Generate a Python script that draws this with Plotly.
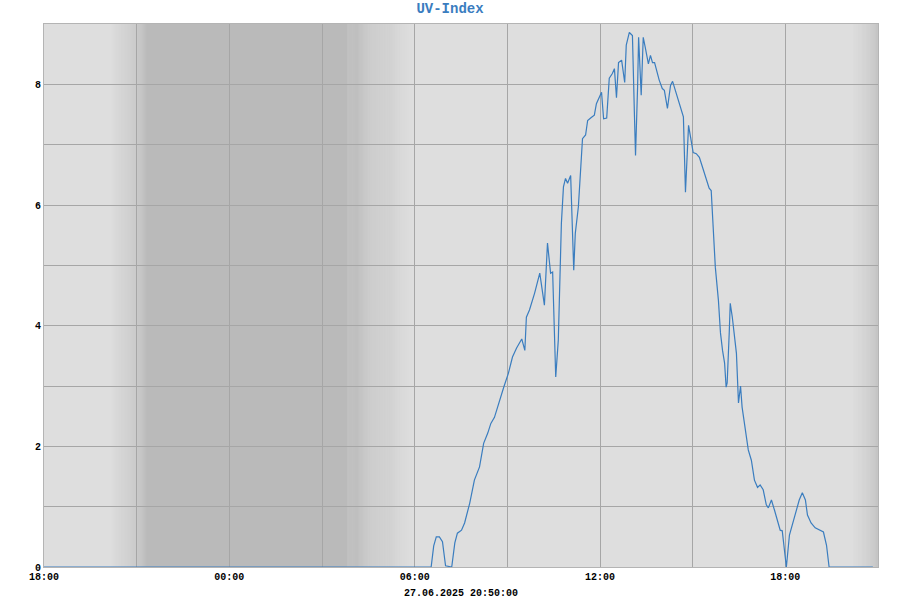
import plotly.graph_objects as go
from datetime import datetime, timedelta

# ---- data ----
times = [
    "2025-06-26 18:00", "2025-06-27 06:32", "2025-06-27 06:37", "2025-06-27 06:42", "2025-06-27 06:48",
    "2025-06-27 06:54", "2025-06-27 07:00", "2025-06-27 07:12", "2025-06-27 07:18", "2025-06-27 07:23",
    "2025-06-27 07:31", "2025-06-27 07:37", "2025-06-27 07:47", "2025-06-27 07:56", "2025-06-27 08:06",
    "2025-06-27 08:14", "2025-06-27 08:22", "2025-06-27 08:28", "2025-06-27 08:35", "2025-06-27 08:45",
    "2025-06-27 08:53", "2025-06-27 09:02", "2025-06-27 09:10", "2025-06-27 09:18", "2025-06-27 09:28",
    "2025-06-27 09:34", "2025-06-27 09:37", "2025-06-27 09:43", "2025-06-27 09:53", "2025-06-27 10:03",
    "2025-06-27 10:12", "2025-06-27 10:18", "2025-06-27 10:24", "2025-06-27 10:28", "2025-06-27 10:34",
    "2025-06-27 10:39", "2025-06-27 10:45", "2025-06-27 10:49", "2025-06-27 10:53", "2025-06-27 10:57",
    "2025-06-27 11:03", "2025-06-27 11:09", "2025-06-27 11:12", "2025-06-27 11:18", "2025-06-27 11:26",
    "2025-06-27 11:32", "2025-06-27 11:36", "2025-06-27 11:43", "2025-06-27 11:49", "2025-06-27 11:53",
    "2025-06-27 12:03", "2025-06-27 12:07", "2025-06-27 12:13", "2025-06-27 12:18", "2025-06-27 12:24",
    "2025-06-27 12:28", "2025-06-27 12:32", "2025-06-27 12:36", "2025-06-27 12:42", "2025-06-27 12:48",
    "2025-06-27 12:51", "2025-06-27 12:57", "2025-06-27 13:03", "2025-06-27 13:07", "2025-06-27 13:09",
    "2025-06-27 13:13", "2025-06-27 13:15", "2025-06-27 13:20", "2025-06-27 13:24", "2025-06-27 13:28",
    "2025-06-27 13:34", "2025-06-27 13:38", "2025-06-27 13:42", "2025-06-27 13:46", "2025-06-27 13:50",
    "2025-06-27 13:55", "2025-06-27 14:01", "2025-06-27 14:05", "2025-06-27 14:11", "2025-06-27 14:17",
    "2025-06-27 14:21", "2025-06-27 14:26", "2025-06-27 14:34", "2025-06-27 14:42", "2025-06-27 14:46",
    "2025-06-27 14:52", "2025-06-27 14:56", "2025-06-27 15:01", "2025-06-27 15:07", "2025-06-27 15:13",
    "2025-06-27 15:19", "2025-06-27 15:25", "2025-06-27 15:32", "2025-06-27 15:36", "2025-06-27 15:40",
    "2025-06-27 15:44", "2025-06-27 15:50", "2025-06-27 15:54", "2025-06-27 15:58", "2025-06-27 16:02",
    "2025-06-27 16:05", "2025-06-27 16:07", "2025-06-27 16:11", "2025-06-27 16:13", "2025-06-27 16:17",
    "2025-06-27 16:25", "2025-06-27 16:29", "2025-06-27 16:33", "2025-06-27 16:36", "2025-06-27 16:40",
    "2025-06-27 16:48", "2025-06-27 16:54", "2025-06-27 17:00", "2025-06-27 17:06", "2025-06-27 17:11",
    "2025-06-27 17:17", "2025-06-27 17:23", "2025-06-27 17:27", "2025-06-27 17:33", "2025-06-27 17:39",
    "2025-06-27 17:44", "2025-06-27 17:50", "2025-06-27 17:54", "2025-06-27 18:00", "2025-06-27 18:02",
    "2025-06-27 18:08", "2025-06-27 18:15", "2025-06-27 18:21", "2025-06-27 18:27", "2025-06-27 18:33",
    "2025-06-27 18:39", "2025-06-27 18:43", "2025-06-27 18:50", "2025-06-27 18:58", "2025-06-27 19:06",
    "2025-06-27 19:14", "2025-06-27 19:20", "2025-06-27 19:25", "2025-06-27 20:50",
]
uv = [
    0, 0, 0.35, 0.50, 0.50,
    0.42, 0.02, 0, 0.40, 0.56,
    0.61, 0.73, 1.06, 1.44, 1.66,
    2.05, 2.22, 2.38, 2.48, 2.77,
    2.98, 3.21, 3.48, 3.63, 3.78,
    3.59, 4.14, 4.26, 4.54, 4.87,
    4.34, 5.37, 4.87, 4.89, 3.15,
    3.76, 5.70, 6.30, 6.44, 6.36,
    6.49, 4.92, 5.53, 5.97, 7.10,
    7.16, 7.40, 7.45, 7.49, 7.68,
    7.87, 7.43, 7.44, 8.10, 8.18,
    8.26, 7.78, 8.36, 8.40, 8.03,
    8.65, 8.86, 8.81, 7.46, 6.82,
    7.95, 8.78, 7.82, 8.78, 8.61,
    8.34, 8.48, 8.36, 8.36, 8.23,
    8.07, 7.93, 7.90, 7.60, 7.98,
    8.05, 7.90, 7.70, 7.46, 6.21,
    7.32, 7.12, 6.87, 6.85, 6.79,
    6.63, 6.46, 6.28, 6.24, 5.53,
    4.97, 4.42, 3.88, 3.59, 3.38,
    2.98, 3.05, 3.88, 4.37, 4.14,
    3.54, 2.72, 3.00, 2.65, 2.43,
    1.94, 1.77, 1.44, 1.32, 1.36,
    1.28, 1.03, 0.98, 1.11, 0.94,
    0.78, 0.61, 0.60, 0.05, 0,
    0.53, 0.75, 0.94, 1.11, 1.23,
    1.11, 0.86, 0.73, 0.65, 0.61,
    0.58, 0.36, 0, 0,
]

title_text = "UV-Index"
stamp_text = "27.06.2025 20:50:00"
x_start = "2025-06-26 18:00"
x_end = "2025-06-27 21:00"

# night shading: (gradient start, dark start, dark end, gradient end)
night_periods = [
    ("2025-06-26 20:10", "2025-06-26 21:20", "2025-06-27 03:50", "2025-06-27 05:55"),
    ("2025-06-27 20:10", "2025-06-27 21:20", "2025-06-28 03:50", "2025-06-28 05:55"),
]

LIGHT = 222
DARK = 186
FONT = "Liberation Mono"

fig = go.Figure()
fig.add_trace(go.Scatter(
    x=times, y=uv, mode="lines",
    line=dict(color="#3a7dbf", width=1.2),
    hoverinfo="x+y", showlegend=False,
))

fmt = "%Y-%m-%d %H:%M"
xs, xe = datetime.strptime(x_start, fmt), datetime.strptime(x_end, fmt)
shapes = []


def grey(v):
    v = int(round(v))
    return f"rgb({v},{v},{v})"


def add_rect(a, b, col):
    a, b = max(a, xs), min(b, xe)
    if b <= a:
        return
    shapes.append(dict(type="rect", xref="x", yref="paper", x0=a, x1=b, y0=0, y1=1,
                       fillcolor=col, line=dict(width=0), layer="below"))


step = timedelta(minutes=2)
for g0, d0, d1, g1 in night_periods:
    g0, d0, d1, g1 = [datetime.strptime(s, fmt) for s in (g0, d0, d1, g1)]
    t = g0
    while t < d0:
        f = ((t - g0) + step / 2) / (d0 - g0)
        add_rect(t, min(t + step, d0), grey(LIGHT + (DARK - LIGHT) * f))
        t += step
    add_rect(d0, d1, grey(DARK))
    t = d1
    while t < g1:
        f = ((t - d1) + step / 2) / (g1 - d1)
        add_rect(t, min(t + step, g1), grey(DARK + (LIGHT - DARK) * f))
        t += step

fig.add_annotation(text=stamp_text, xref="paper", yref="paper", x=0.5, y=0,
                   xanchor="center", yanchor="middle", yshift=-26, showarrow=False,
                   font=dict(family=FONT, size=10, color="black", weight="bold"))

fig.update_layout(
    width=900, height=600,
    margin=dict(l=44, r=22, t=24, b=33),
    paper_bgcolor="white",
    plot_bgcolor=grey(LIGHT),
    shapes=shapes,
    title=dict(text=title_text, x=0.5, xanchor="center", y=1 - 8 / 600, yanchor="middle",
               font=dict(family=FONT, size=14, color="#3a7dbf", weight="bold")),
    font=dict(family=FONT, size=10, color="black", weight="bold"),
    xaxis=dict(
        type="date", range=[x_start, x_end], automargin=False,
        tick0="2025-06-26 18:00", dtick=6 * 3600 * 1000, tickformat="%H:%M",
        showgrid=True, gridcolor="#a6a6a6", gridwidth=1,
        minor=dict(dtick=3 * 3600 * 1000, tick0="2025-06-26 18:00", showgrid=True,
                   gridcolor="#a6a6a6", gridwidth=1),
        ticks="", ticklen=0, showline=True, linecolor="#b4b4b4", mirror=True,
        zeroline=False,
        tickfont=dict(family=FONT, size=10, color="black", weight="bold"),
    ),
    yaxis=dict(
        range=[0, 9], dtick=2, tick0=0, automargin=False,
        showgrid=True, gridcolor="#a6a6a6", gridwidth=1,
        minor=dict(dtick=1, showgrid=True, gridcolor="#a6a6a6", gridwidth=1),
        ticks="", showline=True, linecolor="#b4b4b4", mirror=True,
        zeroline=False,
        tickfont=dict(family=FONT, size=10, color="black", weight="bold"),
    ),
)

fig.write_html("out.html", config={"displayModeBar": False},
               post_script="document.body.style.margin='0';")
